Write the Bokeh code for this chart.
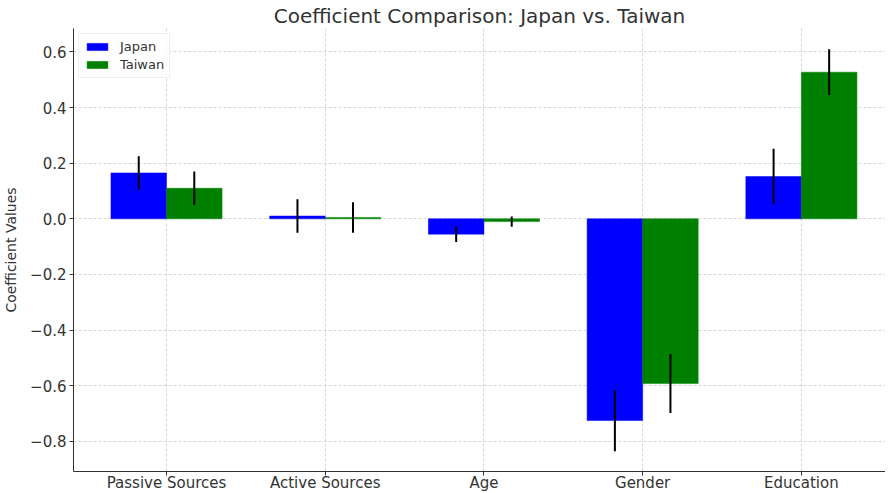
import numpy as np
from bokeh.plotting import figure
from bokeh.models import Range1d, FixedTicker, ColumnDataSource
from bokeh.embed import file_html
from bokeh.resources import INLINE

categories = ["Passive Sources", "Active Sources", "Age", "Gender", "Education"]
japan = [0.165, 0.010, -0.055, -0.725, 0.152]
japan_err = [0.060, 0.060, 0.028, 0.110, 0.100]
taiwan = [0.110, 0.005, -0.010, -0.592, 0.527]
taiwan_err = [0.060, 0.055, 0.018, 0.106, 0.082]
y_ticks = [-0.8, -0.6, -0.4, -0.2, 0.0, 0.2, 0.4, 0.6]

FONT = "DejaVu Sans"
bar_w = 0.35
idx = np.arange(len(categories))

p = figure(width=885, height=494, output_backend="svg", toolbar_location=None,
           x_range=Range1d(-0.586, 4.53), y_range=Range1d(-0.908, 0.684),
           min_border_left=10, min_border_right=0, min_border_top=0, min_border_bottom=0)

src_j = ColumnDataSource(dict(x=idx - bar_w / 2, top=japan,
                              lo=np.array(japan) - np.array(japan_err),
                              hi=np.array(japan) + np.array(japan_err)))
src_t = ColumnDataSource(dict(x=idx + bar_w / 2, top=taiwan,
                              lo=np.array(taiwan) - np.array(taiwan_err),
                              hi=np.array(taiwan) + np.array(taiwan_err)))

p.vbar(x="x", top="top", bottom=0, width=bar_w, source=src_j, fill_color="#0000ff",
       line_color="#0000ff", line_width=0.5, legend_label="Japan")
p.vbar(x="x", top="top", bottom=0, width=bar_w, source=src_t, fill_color="#008000",
       line_color="#008000", line_width=0.5, legend_label="Taiwan")
p.segment(x0="x", y0="lo", x1="x", y1="hi", source=src_j, line_color="black", line_width=2)
p.segment(x0="x", y0="lo", x1="x", y1="hi", source=src_t, line_color="black", line_width=2)

p.title.text = "Coefficient Comparison: Japan vs. Taiwan"
p.title.align = "center"
p.title.offset = 7
p.title.text_font = FONT
p.title.text_font_size = "20px"
p.title.text_font_style = "normal"
p.title.text_color = "#333333"
p.title.standoff = 2

p.outline_line_color = None

p.xaxis.ticker = FixedTicker(ticks=list(idx))
p.xaxis.major_label_overrides = {int(i): c for i, c in zip(idx, categories)}
p.yaxis.ticker = FixedTicker(ticks=y_ticks)
p.yaxis.major_label_overrides = {t: (f"{t:.1f}".replace("-", "\u2212")) for t in y_ticks}
p.yaxis.axis_label = "Coefficient Values"

for ax in (p.xaxis, p.yaxis):
    ax.major_label_text_font = FONT
    ax.major_label_text_font_size = "15px"
    ax.major_label_text_color = "#333333"
    ax.axis_label_text_font = FONT
    ax.axis_label_text_font_size = "14px"
    ax.axis_label_text_font_style = "normal"
    ax.axis_label_text_color = "#333333"
    ax.minor_tick_line_color = None
    ax.major_tick_out = 4
    ax.major_tick_in = 0
    ax.axis_line_color = "#333333"
    ax.major_tick_line_color = "#333333"
    ax.major_label_standoff = 3
p.yaxis.axis_label_standoff = 8
p.xaxis.major_label_standoff = -2

p.xgrid.ticker = FixedTicker(ticks=list(idx))
p.ygrid.ticker = FixedTicker(ticks=y_ticks)
for g in (p.xgrid, p.ygrid):
    g.grid_line_color = "#cccccc"
    g.grid_line_dash = "3 2"
    g.grid_line_width = 0.8

p.legend.location = "top_left"
p.legend.label_text_font = FONT
p.legend.label_text_font_size = "13px"
p.legend.label_text_color = "#333333"
p.legend.border_line_color = "#dddddd"
p.legend.background_fill_alpha = 0.8
p.legend.glyph_width = 26
p.legend.glyph_height = 9
p.legend.label_height = 15
p.legend.spacing = 3
p.legend.padding = 5
p.legend.margin = 5
p.legend.label_standoff = 10

open("out.html", "w").write(file_html(p, INLINE))
